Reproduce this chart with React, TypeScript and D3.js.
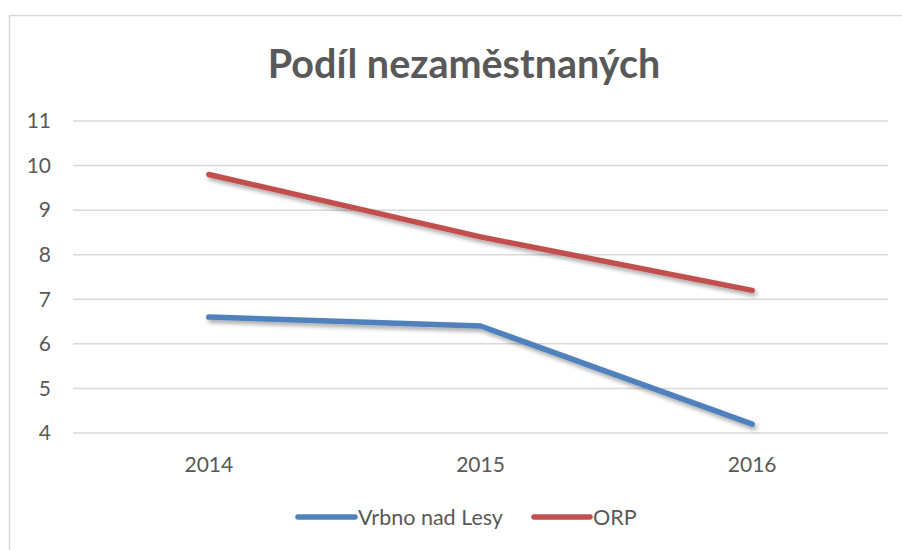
import { useEffect, useRef } from 'react';
import * as d3 from 'd3';

const years = ['2014', '2015', '2016'];
const vrbno = [6.6, 6.4, 4.2];
const orp = [9.8, 8.4, 7.2];
const yTicks = [4, 5, 6, 7, 8, 9, 10, 11];
const seriesNames = ['Vrbno nad Lesy', 'ORP'];
const seriesColors = ['#4f81bd', '#c0504d'];

const W = 902;
const H = 550;
const FONT = 'Lato, "Open Sans", sans-serif';

export default function App() {
  const ref = useRef<SVGSVGElement>(null);

  useEffect(() => {
    if (!ref.current) return;
    const svg = d3.select(ref.current);
    svg.selectAll('*').remove();

    const defs = svg.append('defs');
    const shadow = defs.append('filter')
      .attr('id', 'lineShadow')
      .attr('x', '-10%').attr('y', '-20%')
      .attr('width', '120%').attr('height', '140%');
    shadow.append('feDropShadow')
      .attr('dx', 2).attr('dy', 3)
      .attr('stdDeviation', 2)
      .attr('flood-color', '#000')
      .attr('flood-opacity', 0.35);

    svg.append('rect')
      .attr('x', 0).attr('y', 0).attr('width', W).attr('height', H)
      .attr('fill', '#fff');

    // chart frame (runs off right/bottom edges)
    svg.append('rect')
      .attr('x', 9.5).attr('y', 15.5)
      .attr('width', W + 20).attr('height', H + 20)
      .attr('fill', 'none')
      .attr('stroke', '#d9d9d9').attr('stroke-width', 1.5);

    const left = 73, right = 888, top = 121, bottom = 433;

    const x = d3.scaleBand<string>().domain(years).range([left, right]);
    const y = d3.scaleLinear().domain([4, 11]).range([bottom, top]);

    // title
    svg.append('text')
      .attr('x', 464).attr('y', 78)
      .attr('text-anchor', 'middle')
      .attr('font-family', FONT)
      .attr('font-weight', 'bold')
      .attr('font-size', 39.5)
      .attr('fill', '#595959')
      .text('Podíl nezaměstnaných');

    // grid
    svg.append('g')
      .selectAll('line')
      .data(yTicks)
      .enter().append('line')
      .attr('x1', left).attr('x2', right)
      .attr('y1', d => y(d)).attr('y2', d => y(d))
      .attr('stroke', '#d9d9d9').attr('stroke-width', 1.5);

    // y labels
    svg.append('g')
      .selectAll('text')
      .data(yTicks)
      .enter().append('text')
      .attr('x', 51).attr('y', d => y(d))
      .attr('dy', '0.35em')
      .attr('text-anchor', 'end')
      .attr('font-family', FONT).attr('font-size', 21)
      .attr('fill', '#595959')
      .text(d => d);

    // x labels
    svg.append('g')
      .selectAll('text')
      .data(years)
      .enter().append('text')
      .attr('x', d => (x(d) ?? 0) + x.bandwidth() / 2)
      .attr('y', 472)
      .attr('text-anchor', 'middle')
      .attr('font-family', FONT).attr('font-size', 21)
      .attr('fill', '#595959')
      .text(d => d);

    const line = d3.line<number>()
      .x((_, i) => (x(years[i]) ?? 0) + x.bandwidth() / 2)
      .y(d => y(d));

    [vrbno, orp].forEach((vals, i) => {
      svg.append('path')
        .datum(vals)
        .attr('fill', 'none')
        .attr('stroke', seriesColors[i])
        .attr('stroke-width', 5.5)
        .attr('stroke-linecap', 'round')
        .attr('stroke-linejoin', 'round')
        .attr('filter', 'url(#lineShadow)')
        .attr('d', line);
    });

    // legend
    const legendItems = [
      { x0: 298, x1: 355, tx: 358 },
      { x0: 534, x1: 590, tx: 593 },
    ];
    legendItems.forEach((it, i) => {
      svg.append('line')
        .attr('x1', it.x0).attr('x2', it.x1)
        .attr('y1', 517).attr('y2', 517)
        .attr('stroke', seriesColors[i])
        .attr('stroke-width', 5.5)
        .attr('stroke-linecap', 'round');
      svg.append('text')
        .attr('x', it.tx).attr('y', 517)
        .attr('dy', '0.35em')
        .attr('font-family', FONT).attr('font-size', 21.5)
        .attr('fill', '#595959')
        .text(seriesNames[i]);
    });
  }, []);

  return (
    <div style={{ position: 'absolute', left: 0, top: 0 }}>
      <svg ref={ref} width={W} height={H} style={{ display: 'block' }} />
    </div>
  );
}
